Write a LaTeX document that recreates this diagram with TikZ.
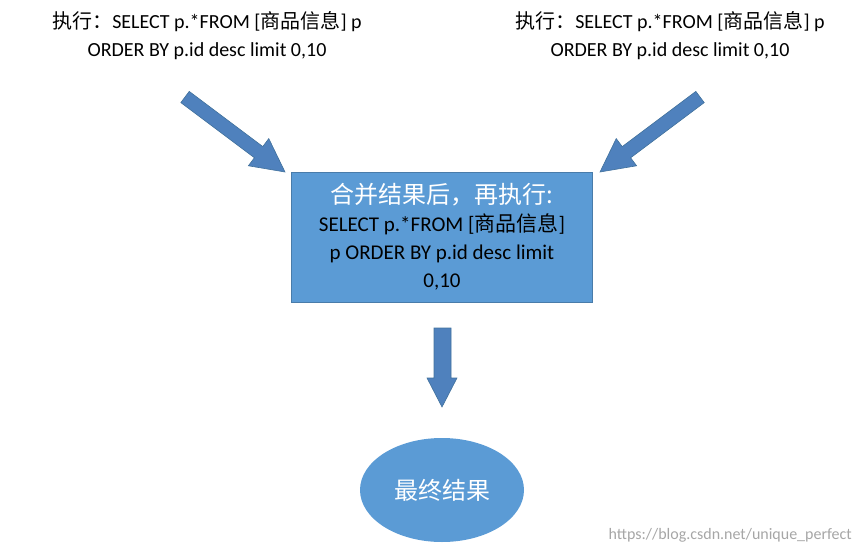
\documentclass[tikz,border=0pt]{standalone}
\usepackage{fontspec}
\setmainfont{Carlito}
\newfontfamily\cjk{Noto Sans CJK SC}
\usetikzlibrary{arrows.meta,shapes.geometric}
\definecolor{boxblue}{HTML}{5B9BD5}
\definecolor{arrblue}{HTML}{4F81BD}
\definecolor{arrdark}{HTML}{41719C}
\tikzset{
  bigarrow/.style={draw=arrdark,line width=0.6pt,fill=arrblue},
  lbl/.style={align=center,font=\fontsize{20}{28}\selectfont,inner sep=0pt},
}
\begin{document}
\begin{tikzpicture}[x=1pt,y=-1pt]
\useasboundingbox (0,0) rectangle (860,551);
\node[lbl] (tl) at (207,36) {{\cjk 执行：}SELECT p.*FROM [{\cjk 商品信息}] p\\ORDER BY p.id desc limit 0,10};
\node[lbl] (tr) at (670,36) {{\cjk 执行：}SELECT p.*FROM [{\cjk 商品信息}] p\\ORDER BY p.id desc limit 0,10};
\node[fill=boxblue,draw=boxblue!80!black,line width=0.4pt,minimum width=301pt,minimum height=130pt,inner sep=0pt,align=center,font=\fontsize{21}{28}\selectfont] (box) at (442,237)
 {{\color{white}\fontsize{24}{30}\selectfont\cjk 合并结果后，再执行:}\\SELECT p.*FROM [{\cjk 商品信息}]\\p ORDER BY p.id desc limit\\0,10};
\node[ellipse,fill=boxblue,minimum width=164pt,minimum height=104pt,inner sep=0pt,text=white,font=\fontsize{24}{26}\selectfont\cjk] (res) at (442,490) {最终结果};
\node[text=gray!70,font=\fontsize{16}{18}\selectfont,anchor=east,inner sep=0pt] (wm) at (852,535) {https://blog.csdn.net/unique\_perfect};
\begin{scope}[shift={(185,97)},rotate=-36.87]
\draw[bigarrow] (0,-7) -- (92,-7) -- (92,-17) -- (125,0) -- (92,17) -- (92,7) -- (0,7) -- cycle;
\end{scope}
\begin{scope}[shift={(700,97)},rotate=-143.13]
\draw[bigarrow] (0,7) -- (92,7) -- (92,17) -- (125,0) -- (92,-17) -- (92,-7) -- (0,-7) -- cycle;
\end{scope}
\draw[bigarrow] (434,328) -- (451,328) -- (451,378) -- (457,378) -- (442,407) -- (427,378) -- (434,378) -- cycle;
\end{tikzpicture}
\end{document}
